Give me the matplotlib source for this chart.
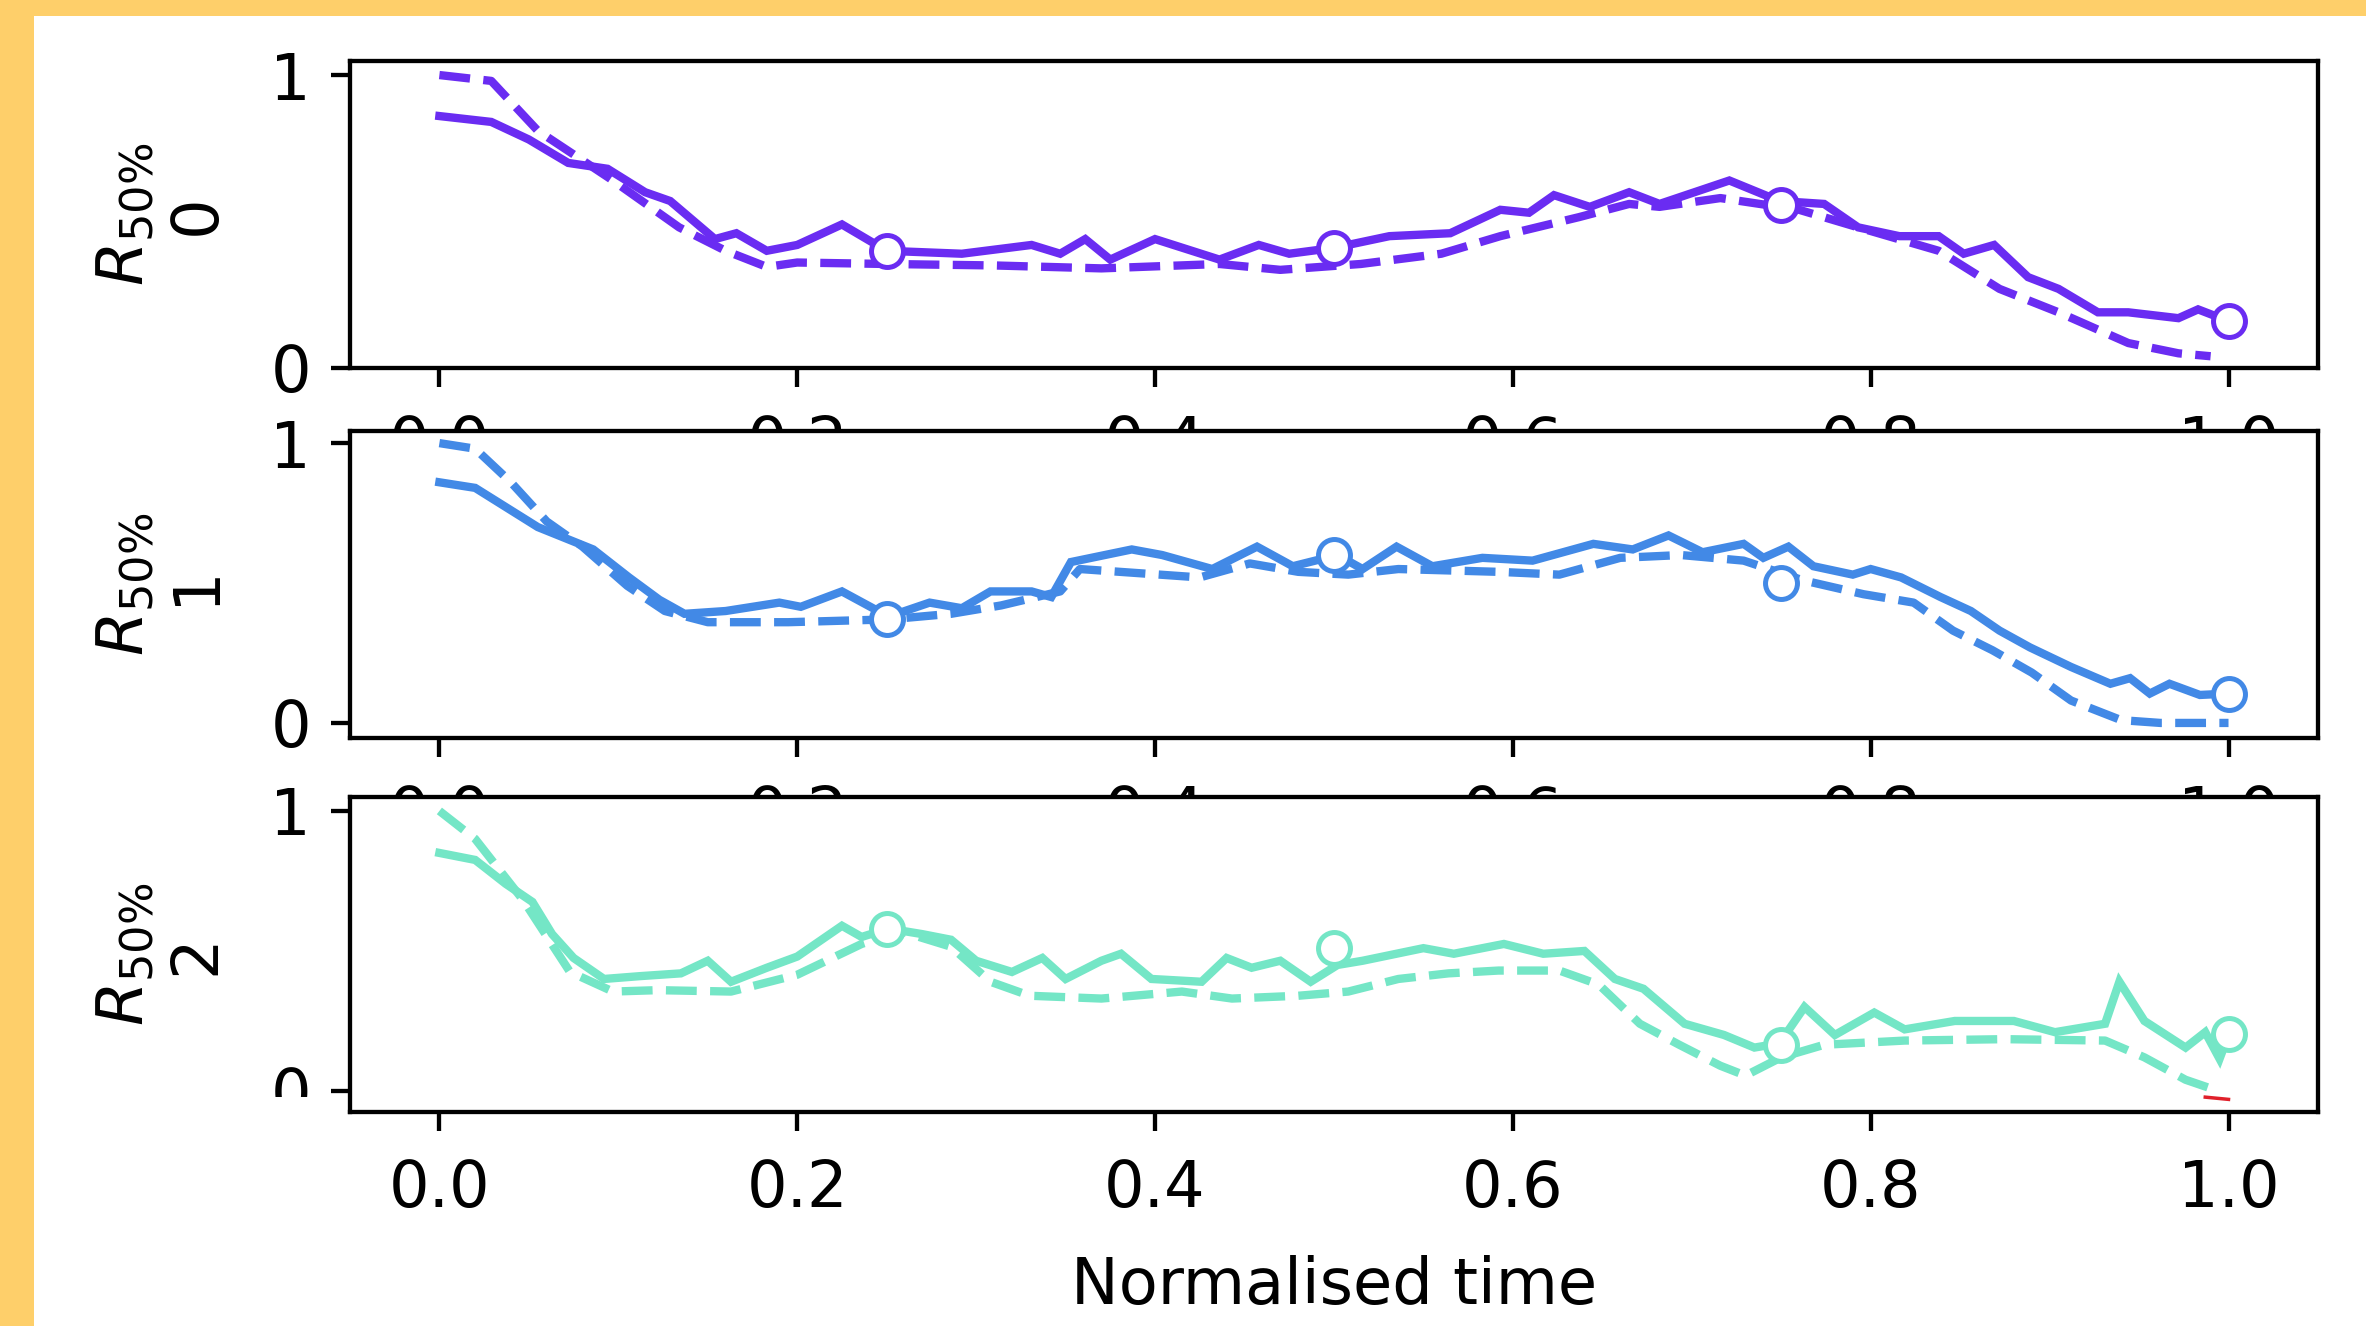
import numpy as np
import matplotlib
matplotlib.use("Agg")
import matplotlib.pyplot as plt
from matplotlib.patches import Rectangle

# ======================================================
# Setup
# ======================================================

ORANGE = "#FECF6A"
COLORS = ["#6a2cf2", "#4289e6", "#74e6c6"]
RED = "#e0202a"

FONT_SIZE = 46
LINE_W = 6.0

# ======================================================
# DATA
# ======================================================

# --- panel 0 (purple) ---
T0_SOLID = [0.0, 0.029, 0.05, 0.072, 0.094, 0.115, 0.129, 0.154, 0.166, 0.183,
            0.2, 0.225, 0.25, 0.292, 0.331, 0.347, 0.361, 0.375, 0.4, 0.436,
            0.458, 0.475, 0.5, 0.531, 0.565, 0.593, 0.609, 0.623, 0.643, 0.665,
            0.682, 0.721, 0.749, 0.774, 0.793, 0.816, 0.838, 0.852, 0.869, 0.888,
            0.905, 0.927, 0.944, 0.972, 0.983, 1.0]
R0_SOLID = [0.86, 0.84, 0.78, 0.70, 0.68, 0.60, 0.57, 0.44, 0.46, 0.40,
            0.42, 0.49, 0.40, 0.39, 0.42, 0.39, 0.44, 0.37, 0.44, 0.37,
            0.42, 0.39, 0.41, 0.45, 0.46, 0.54, 0.53, 0.59, 0.55, 0.60,
            0.56, 0.64, 0.57, 0.56, 0.48, 0.45, 0.45, 0.39, 0.42, 0.31,
            0.27, 0.19, 0.19, 0.17, 0.20, 0.16]
T0_DASH = [0.0, 0.029, 0.055, 0.097, 0.134, 0.16, 0.183, 0.2, 0.25, 0.31,
           0.37, 0.436, 0.47, 0.515, 0.56, 0.593, 0.637, 0.665, 0.682, 0.716,
           0.76, 0.793, 0.838, 0.872, 0.905, 0.944, 0.972, 0.99]
R0_DASH = [1.0, 0.98, 0.81, 0.64, 0.48, 0.40, 0.345, 0.36, 0.355, 0.35,
           0.34, 0.355, 0.335, 0.355, 0.39, 0.45, 0.515, 0.56, 0.55, 0.58,
           0.54, 0.48, 0.40, 0.27, 0.19, 0.085, 0.05, 0.04]

# --- panel 1 (blue) ---
T1_SOLID = [0.0, 0.02, 0.055, 0.086, 0.106, 0.123, 0.137, 0.16, 0.19, 0.202,
            0.225, 0.251, 0.274, 0.292, 0.308, 0.331, 0.342, 0.353, 0.387, 0.404,
            0.432, 0.457, 0.477, 0.502, 0.516, 0.535, 0.555, 0.583, 0.611, 0.645,
            0.667, 0.687, 0.706, 0.729, 0.74, 0.754, 0.768, 0.79, 0.80, 0.817,
            0.839, 0.856, 0.872, 0.889, 0.912, 0.934, 0.945, 0.956, 0.967, 0.984,
            1.0]
R1_SOLID = [0.86, 0.84, 0.70, 0.62, 0.52, 0.44, 0.39, 0.40, 0.43, 0.415,
            0.47, 0.38, 0.43, 0.41, 0.47, 0.47, 0.45, 0.575, 0.62, 0.60,
            0.55, 0.63, 0.56, 0.60, 0.55, 0.63, 0.56, 0.59, 0.58, 0.64,
            0.62, 0.67, 0.61, 0.64, 0.59, 0.63, 0.56, 0.53, 0.55, 0.52,
            0.45, 0.40, 0.33, 0.27, 0.20, 0.14, 0.16, 0.105, 0.14, 0.10,
            0.105]
T1_DASH = [0.0, 0.02, 0.04, 0.06, 0.08, 0.105, 0.126, 0.15, 0.195, 0.251,
           0.286, 0.314, 0.347, 0.358, 0.425, 0.453, 0.48, 0.508, 0.536, 0.592,
           0.626, 0.66, 0.694, 0.729, 0.762, 0.796, 0.824, 0.846, 0.868, 0.89,
           0.912, 0.94, 0.962, 1.0]
R1_DASH = [1.0, 0.98, 0.86, 0.72, 0.63, 0.49, 0.40, 0.36, 0.36, 0.37,
           0.39, 0.42, 0.47, 0.55, 0.52, 0.57, 0.54, 0.53, 0.55, 0.54,
           0.53, 0.59, 0.60, 0.58, 0.51, 0.46, 0.43, 0.33, 0.26, 0.18,
           0.08, 0.01, 0.0, 0.0]

# --- panel 2 (teal) ---
T2_SOLID = [0.0, 0.02, 0.037, 0.052, 0.063, 0.075, 0.092, 0.112, 0.135, 0.15,
            0.163, 0.183, 0.2, 0.225, 0.236, 0.251, 0.27, 0.286, 0.3, 0.32,
            0.337, 0.35, 0.37, 0.381, 0.398, 0.426, 0.44, 0.454, 0.47, 0.487,
            0.502, 0.516, 0.55, 0.567, 0.595, 0.617, 0.64, 0.657, 0.673, 0.696,
            0.718, 0.735, 0.749, 0.763, 0.78, 0.802, 0.819, 0.847, 0.88, 0.903,
            0.931, 0.939, 0.953, 0.976, 0.987, 0.995, 1.0]
R2_SOLID = [0.85, 0.825, 0.74, 0.675, 0.56, 0.475, 0.40, 0.41, 0.42, 0.465,
            0.39, 0.44, 0.48, 0.59, 0.55, 0.58, 0.56, 0.54, 0.465, 0.425,
            0.475, 0.40, 0.465, 0.49, 0.40, 0.39, 0.475, 0.44, 0.465, 0.39,
            0.45, 0.465, 0.51, 0.49, 0.525, 0.49, 0.50, 0.40, 0.365, 0.24,
            0.20, 0.155, 0.17, 0.30, 0.20, 0.28, 0.22, 0.25, 0.25, 0.21,
            0.24, 0.39, 0.25, 0.155, 0.21, 0.115, 0.20]
T2_DASH = [0.0, 0.02, 0.047, 0.073, 0.097, 0.122, 0.163, 0.2, 0.236, 0.258,
           0.286, 0.308, 0.33, 0.37, 0.415, 0.443, 0.48, 0.508, 0.536, 0.564,
           0.592, 0.626, 0.648, 0.671, 0.693, 0.716, 0.73, 0.75, 0.774, 0.819,
           0.875, 0.931, 0.953, 0.976, 0.992]
R2_DASH = [1.0, 0.90, 0.68, 0.425, 0.355, 0.36, 0.355, 0.415, 0.525, 0.57,
           0.515, 0.39, 0.34, 0.33, 0.355, 0.33, 0.34, 0.355, 0.40, 0.42,
           0.43, 0.43, 0.38, 0.24, 0.165, 0.09, 0.055, 0.12, 0.165, 0.18,
           0.185, 0.18, 0.12, 0.04, 0.005]

# open-circle checkpoints at quarter times
T_MARK = [0.25, 0.5, 0.75, 1.0]
R_MARK = [
    [0.40, 0.41, 0.555, 0.16],
    [0.37, 0.60, 0.50, 0.105],
    [0.58, 0.51, 0.165, 0.205],
]

# stray red stub in the bottom panel
T_RED = [0.987, 1.0]
R_RED = [-0.022, -0.03]

PANEL_LABELS = ["0", "1", "2"]
X_TICKS = [0.0, 0.2, 0.4, 0.6, 0.8, 1.0]

solid = [(T0_SOLID, R0_SOLID), (T1_SOLID, R1_SOLID), (T2_SOLID, R2_SOLID)]
dashed = [(T0_DASH, R0_DASH), (T1_DASH, R1_DASH), (T2_DASH, R2_DASH)]

# axes boxes [left, bottom, width, height] and y limits
AX_BOXES = [
    [0.1479, 0.7225, 0.8318, 0.2315],
    [0.1479, 0.4434, 0.8318, 0.2315],
    [0.1479, 0.1614, 0.8318, 0.2376],
]
Y_LIMS = [(0.0, 1.048), (-0.054, 1.043), (-0.075, 1.05)]

# ======================================================
# PLOT
# ======================================================

plt.rcParams["font.family"] = ["DejaVu Sans"]
plt.rcParams["font.size"] = FONT_SIZE

fig = plt.figure(figsize=(23.66, 13.26), dpi=100)
fig.patch.set_facecolor(ORANGE)
fig.add_artist(Rectangle((34 / 2366, 0), 1, 1 - 16 / 1326,
                         transform=fig.transFigure, facecolor="white",
                         edgecolor="none", zorder=-1))

for i in range(3):
    ax = fig.add_axes(AX_BOXES[i])
    ax.set_facecolor("white")
    c = COLORS[i]

    ax.plot(*solid[i], color=c, lw=LINE_W, solid_joinstyle="miter")
    ax.plot(*dashed[i], color=c, lw=LINE_W, ls="--")
    ax.plot(T_MARK, R_MARK[i], ls="none", marker="o", ms=23,
            mfc="white", mec=c, mew=3.6)
    if i == 2:
        ax.plot(T_RED, R_RED, color=RED, lw=2.5)

    ax.set_xlim(-0.05, 1.05)
    ax.set_ylim(*Y_LIMS[i])
    ax.set_yticks([0, 1])
    ax.set_xticks(X_TICKS)
    ax.set_ylabel("$R_{50\\%}$\n" + PANEL_LABELS[i], labelpad=31)

    for s in ax.spines.values():
        s.set_linewidth(3.1)
    ax.tick_params(length=14, width=3.1, pad=14, labelsize=FONT_SIZE)
    ax.tick_params(axis="x", pad=19)

    if i == 2:
        ax.set_xlabel("Normalised time", labelpad=25)

# something in the source covers the lower half of the last "0" tick label
fig.add_artist(Rectangle((150 / 2366, 1 - 1145 / 1326),
                         (342 - 150) / 2366, (1145 - 1097) / 1326,
                         transform=fig.transFigure, facecolor="white",
                         edgecolor="none", zorder=5))

fig.savefig("out.png", dpi=100, facecolor=fig.get_facecolor())
